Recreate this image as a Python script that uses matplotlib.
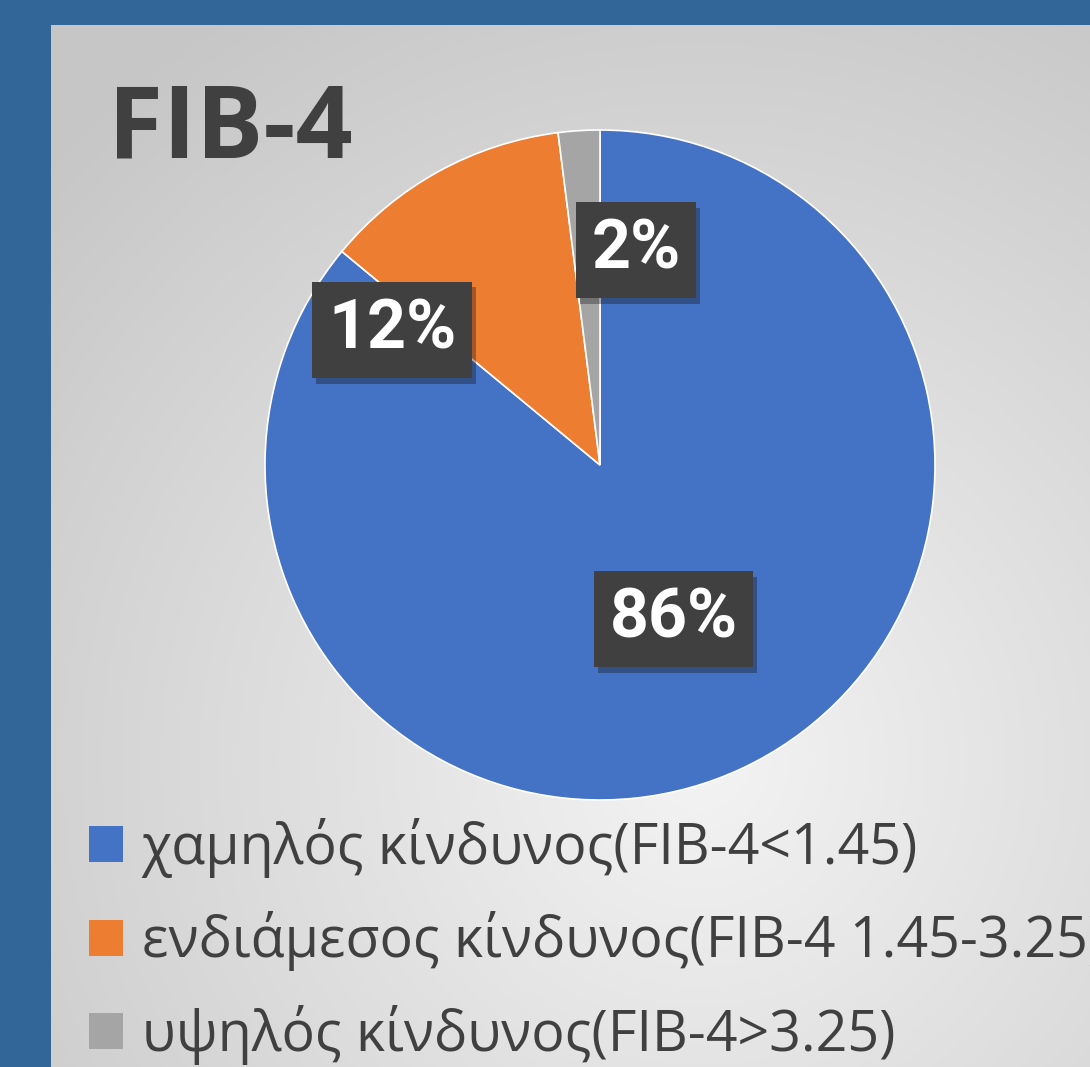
import numpy as np
import matplotlib.pyplot as plt
from matplotlib.patches import Rectangle
from matplotlib import patheffects as pe

plt.rcParams['font.family'] = ['Open Sans', 'DejaVu Sans']

# Data
title = 'FIB-4'
labels = ['χαμηλός κίνδυνος(FIB-4<1.45)',
          'ενδιάμεσος κίνδυνος(FIB-4 1.45-3.25)',
          'υψηλός κίνδυνος(FIB-4>3.25)']
values = [86, 12, 2]
colors = ['#4472C4', '#ED7D31', '#A5A5A5']

# label placement (angle in degrees, radius as fraction of pie radius)
label_pos = [(-64.5, 0.51), (147.0, 0.74), (80.5, 0.65)]

W, H = 1090, 1067
fig = plt.figure(figsize=(W / 100, H / 100), dpi=100)

# background: blue frame + light gray gradient panel
bg = fig.add_axes([0, 0, 1, 1], zorder=-10)
bg.set_xlim(0, W)
bg.set_ylim(H, 0)
bg.axis('off')
bg.add_patch(Rectangle((0, 0), W, H, facecolor='#326699', edgecolor='none'))
yy, xx = np.mgrid[0:H, 0:W]
d = np.hypot(xx - 700, yy - 760) / 1000.0
shade = np.clip(0.955 - 0.20 * d, 0.78, 0.96)
img = np.dstack([shade, shade, shade])
bg.imshow(img[25:, 51:], extent=(51, W, H, 25), aspect='auto', zorder=1)

# title
fig.text(108 / W, 1 - 158 / H, title, fontsize=72, fontweight='bold',
         color='#404040', ha='left', va='baseline')

# pie
cx, cy, r = 600, 465, 335
ax = fig.add_axes([(cx - r) / W, (H - cy - r) / H, 2 * r / W, 2 * r / H])
wedges, _ = ax.pie(values, colors=colors, startangle=90, counterclock=False,
                   wedgeprops=dict(edgecolor='white', linewidth=1.2))
ax.set_xlim(-1, 1)
ax.set_ylim(-1, 1)
ax.set_aspect('equal')
ax.axis('off')

for v, (ang, rad) in zip(values, label_pos):
    a = np.deg2rad(ang)
    t = ax.text(rad * np.cos(a), rad * np.sin(a), f'{v}%', fontsize=49,
                fontweight='bold', family=['Roboto', 'DejaVu Sans'],
                color='white', ha='center', va='center',
                bbox=dict(boxstyle='square,pad=0.23', facecolor='#404040',
                          edgecolor='none'))
    t.get_bbox_patch().set_path_effects(
        [pe.SimplePatchShadow(offset=(3, -4), alpha=0.35), pe.Normal()])

# legend (the long entry runs off the right edge, as in the original slide)
leg = ax.legend(wedges, labels, loc='upper left',
                bbox_to_anchor=(89 / W, 1 - 818 / H),
                bbox_transform=fig.transFigure, frameon=False,
                fontsize=40, labelcolor='#404040', handlelength=0.62,
                handleheight=0.62, handletextpad=0.33, labelspacing=0.6,
                borderpad=0, borderaxespad=0)
for h in leg.legend_handles:
    h.set_edgecolor('none')

fig.savefig('out.png', dpi=100)
